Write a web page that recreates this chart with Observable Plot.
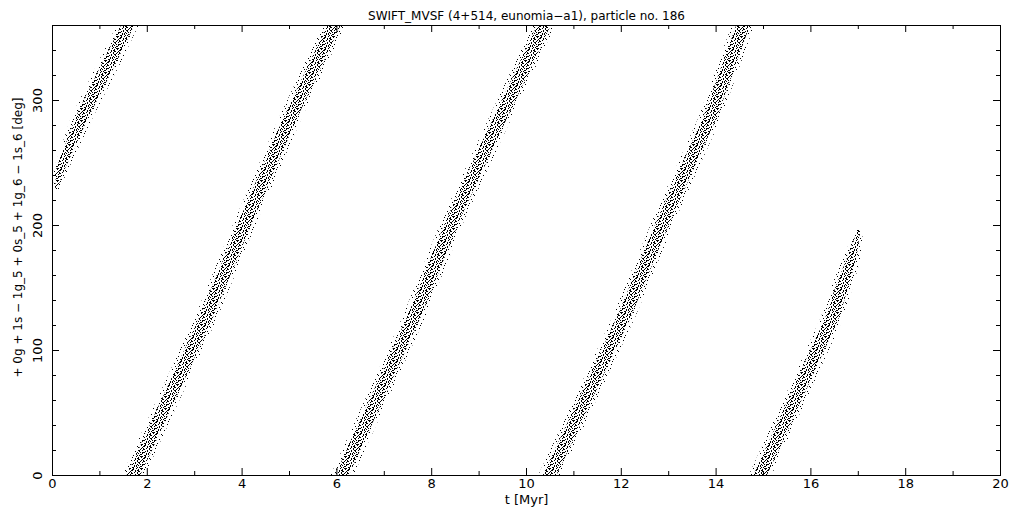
<!DOCTYPE html>
<html><head><meta charset="utf-8">
<script src="https://cdn.jsdelivr.net/npm/d3@7"></script>
<script src="https://cdn.jsdelivr.net/npm/@observablehq/plot@0.6"></script>
<style>body{margin:0;background:#fff} svg{display:block}</style>
</head><body><div id="chart"></div>
<script>
// ---- text ----
const titleText = "SWIFT_MVSF (4+514, eunomia\u2212a1), particle no. 186";
const xLabelText = "t [Myr]";
const yLabelText = "+ 0g + 1s \u2212 1g_5 + 0s_5 + 1g_6 \u2212 1s_6 [deg]";

// ---- ticks ----
const xTickLabels = [0, 2, 4, 6, 8, 10, 12, 14, 16, 18, 20];
const xMinorTicks = [1, 3, 5, 7, 9, 11, 13, 15, 17, 19];
const yTickLabels = [0, 100, 200, 300];
const yMinorTicks = [20, 40, 60, 80, 120, 140, 160, 180, 220, 240, 260, 280, 320, 340];

// ---- bands of points (angle in deg, time edges in Myr) ----
const band1Angle = [228, 245, 286, 330, 360];
const band1Lo    = [0.06, 0.06, 0.45, 1.02, 1.42];
const band1Hi    = [0.10, 0.30, 0.81, 1.40, 1.78];

const band2Angle = [0, 46, 126, 206, 286, 360];
const band2Lo    = [1.53, 2.09, 3.06, 3.93, 4.84, 5.76];
const band2Hi    = [1.91, 2.47, 3.44, 4.31, 5.22, 6.14];

const band3Angle = [0, 46, 126, 206, 286, 360];
const band3Lo    = [5.93, 6.48, 7.44, 8.29, 9.27, 10.19];
const band3Hi    = [6.31, 6.86, 7.82, 8.67, 9.65, 10.57];

const band4Angle = [0, 46, 126, 206, 286, 360];
const band4Lo    = [10.31, 10.88, 11.87, 12.74, 13.69, 14.39];
const band4Hi    = [10.69, 11.26, 12.25, 13.12, 14.07, 14.77];

const band5Angle = [0, 46, 126, 150, 172, 196];
const band5Lo    = [14.75, 15.31, 16.27, 16.48, 16.72, 16.99];
const band5Hi    = [15.13, 15.69, 16.65, 16.84, 17.00, 17.06];

const bands = [
  [band1Angle, band1Lo, band1Hi],
  [band2Angle, band2Lo, band2Hi],
  [band3Angle, band3Lo, band3Hi],
  [band4Angle, band4Lo, band4Hi],
  [band5Angle, band5Lo, band5Hi]
];
const rows = bands.flatMap(([a, lo, hi], b) => a.map((angle, i) => ({band: b, angle, lo: lo[i], hi: hi[i]})));

const W = 1021, H = 511;
const M = {top: 25, right: 21, bottom: 36, left: 52};
const innerW = W - M.left - M.right, innerH = H - M.top - M.bottom;
const font = "DejaVu Sans";

const svg = Plot.plot({
  width: W, height: H,
  marginTop: M.top, marginRight: M.right, marginBottom: M.bottom, marginLeft: M.left,
  style: {fontFamily: font, fontSize: "12px", color: "black", background: "white"},
  x: {domain: [0, 20], axis: null},
  y: {domain: [0, 360], axis: null},
  marks: [
    Plot.areaX(rows, {y: "angle", x1: d => Math.max(0.04, d.lo - 0.05), x2: d => d.hi + 0.05, z: "band", fill: "url(#stipSparse)", curve: "linear", clip: true}),
    Plot.areaX(rows, {y: "angle", x1: d => d.lo + 0.12 * (d.hi - d.lo), x2: d => d.hi - 0.12 * (d.hi - d.lo), z: "band", fill: "url(#stipDense)", curve: "linear"}),
    Plot.frame({stroke: "black", strokeWidth: 1}),
    // bottom / top ticks (inward)
    Plot.tickX(xTickLabels, {x: d => d, insetTop: innerH - 7, stroke: "black"}),
    Plot.tickX(xMinorTicks, {x: d => d, insetTop: innerH - 4, stroke: "black"}),
    Plot.tickX(xTickLabels, {x: d => d, insetBottom: innerH - 7, stroke: "black"}),
    Plot.tickX(xMinorTicks, {x: d => d, insetBottom: innerH - 4, stroke: "black"}),
    // left / right ticks (inward)
    Plot.tickY(yTickLabels, {y: d => d, insetRight: innerW - 7, stroke: "black"}),
    Plot.tickY(yMinorTicks, {y: d => d, insetRight: innerW - 4, stroke: "black"}),
    Plot.tickY(yTickLabels, {y: d => d, insetLeft: innerW - 7, stroke: "black"}),
    Plot.tickY(yMinorTicks, {y: d => d, insetLeft: innerW - 4, stroke: "black"}),
    // tick labels
    Plot.text(xTickLabels, {x: d => d, text: d => String(d), frameAnchor: "bottom", dy: 12, fontSize: 13, fill: "black"}),
    Plot.text(yTickLabels, {y: d => d, text: d => String(d), frameAnchor: "left", textAnchor: "middle", dx: -15, rotate: -90, fontSize: 13, fill: "black"}),
    // labels
    Plot.text([titleText], {text: d => d, frameAnchor: "top", dy: -14, fontSize: 12, fill: "black"}),
    Plot.text([xLabelText], {text: d => d, frameAnchor: "bottom", dy: 28, fontSize: 13, fill: "black"}),
    Plot.text([yLabelText], {text: d => d, frameAnchor: "left", textAnchor: "middle", dx: -34, dy: -13, rotate: -90, fontSize: 12, fill: "black"})
  ]
});

// stipple patterns imitating the scattered 1-px points
const NS = "http://www.w3.org/2000/svg";
const defs = document.createElementNS(NS, "defs");
function makePattern(id, size, rowsPix) {
  const p = document.createElementNS(NS, "pattern");
  p.setAttribute("id", id);
  p.setAttribute("patternUnits", "userSpaceOnUse");
  p.setAttribute("width", size);
  p.setAttribute("height", size);
  rowsPix.forEach((cols, py) => {
    for (const px of cols) {
      const r = document.createElementNS(NS, "rect");
      r.setAttribute("x", px); r.setAttribute("y", py);
      r.setAttribute("width", 1); r.setAttribute("height", 1);
      r.setAttribute("fill", "black");
      r.setAttribute("shape-rendering", "crispEdges");
      p.appendChild(r);
    }
  });
  defs.appendChild(p);
}
makePattern("stipDense", 12, [
  [1, 4, 8, 10], [1, 6, 9], [0, 3, 6, 11], [3, 7, 10],
  [2, 5, 9], [0, 5, 8, 11], [3, 6, 10], [1, 3, 7],
  [0, 5, 8, 11], [2, 6, 10], [2, 4, 9], [0, 5, 7]
]);
makePattern("stipSparse", 12, [
  [9], [0], [5], [6], [11], [], [7], [3], [10], [4], [8], [1]
]);
svg.insertBefore(defs, svg.firstChild);

document.getElementById("chart").appendChild(svg);
</script>
</body></html>
